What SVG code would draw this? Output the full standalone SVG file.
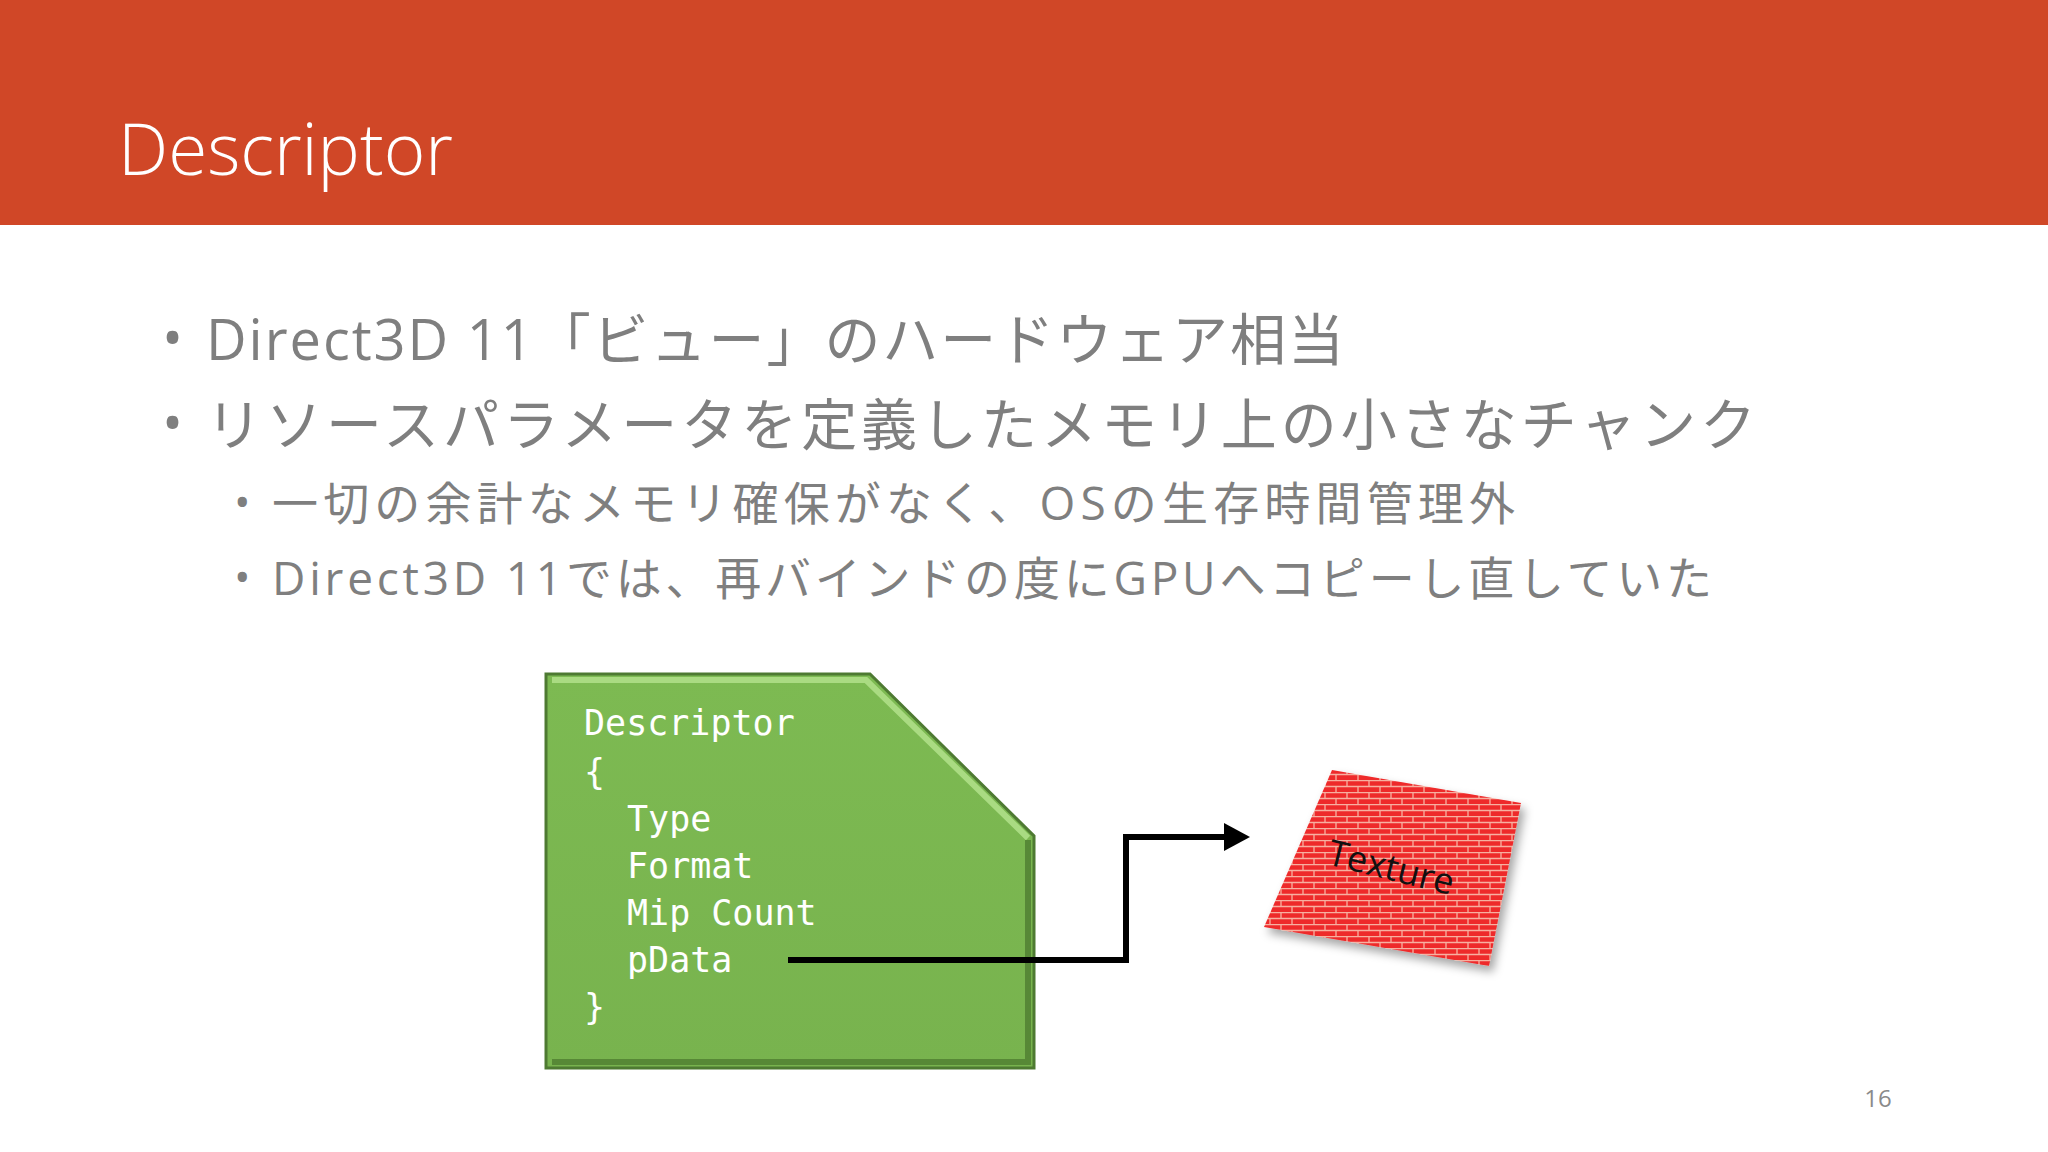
<svg xmlns="http://www.w3.org/2000/svg" width="2048" height="1152" viewBox="0 0 2048 1152">
<style>
.t{font-family:"Segoe UI","Open Sans","Noto Sans CJK JP",sans-serif;fill:#7f7f7f}
.c{font-family:"DejaVu Sans Mono","Liberation Mono",monospace;font-size:35px;fill:#fff}
</style>
<defs>
<pattern id="brick" width="22" height="12" patternUnits="userSpaceOnUse">
<rect width="22" height="12" fill="#ee2a2a"/>
<path d="M0 0.5H22M0 6.5H22M5 0V6M16 6V12" stroke="#f7b0a0" stroke-width="1.3"/>
</pattern>
<linearGradient id="g" x1="0" y1="0" x2="0" y2="1"><stop offset="0" stop-color="#7dba52"/><stop offset="1" stop-color="#78b34e"/></linearGradient>
<filter id="sh"><feDropShadow dx="4" dy="6" stdDeviation="5" flood-opacity="0.35"/></filter>
</defs>
<rect width="2048" height="1152" fill="#fff"/>
<rect width="2048" height="225" fill="#d04727"/>
<text x="118" y="175" font-family="Segoe UI Light,Open Sans,sans-serif" font-weight="300" font-size="71" fill="#fff">Descriptor</text>
<g id="bullets">
<text class="t" x="162" y="358" font-size="56">•</text>
<text class="t" x="206" y="360" font-size="56" textLength="1138">Direct3D 11「ビュー」のハードウェア相当</text>
<text class="t" x="162" y="443" font-size="56">•</text>
<text class="t" x="206" y="445" font-size="56" textLength="1550">リソースパラメータを定義したメモリ上の小さなチャンク</text>
<text class="t" x="234" y="518" font-size="44">•</text>
<text class="t" x="272" y="520" font-size="46" textLength="1243">一切の余計なメモリ確保がなく、OSの生存時間管理外</text>
<text class="t" x="234" y="593" font-size="44">•</text>
<text class="t" x="272" y="595" font-size="46" textLength="1440">Direct3D 11では、再バインドの度にGPUへコピーし直していた</text>
</g>
<g id="descriptor">
<path d="M546 674H870L1034 836V1068H546Z" fill="url(#g)" stroke="#4e7a32" stroke-width="3"/>
<path d="M552 680H866L1028 838" fill="none" stroke="#b5e48e" stroke-width="6" opacity="0.8"/>
<path d="M1028 840V1062H552" fill="none" stroke="#4f7d31" stroke-width="6" opacity="0.8"/>
<text class="c" x="584" y="735">Descriptor</text>
<text class="c" x="584" y="784">{</text>
<text class="c" x="627" y="831">Type</text>
<text class="c" x="627" y="878">Format</text>
<text class="c" x="627" y="925">Mip Count</text>
<text class="c" x="627" y="972">pData</text>
<text class="c" x="584" y="1019">}</text>
</g>
<g id="texture">
<path d="M1332 770L1521 803L1489 966L1264 927Z" fill="url(#brick)" filter="url(#sh)"/>
<text x="1391" y="880" transform="rotate(14 1391 868)" text-anchor="middle" font-family="Open Sans,sans-serif" font-size="36" fill="#111">Texture</text>
</g>
<g id="connectors">
<path d="M788 960H1126V837H1228" fill="none" stroke="#000" stroke-width="6"/>
<path d="M1224 823L1250 837L1224 851Z" fill="#000"/>
</g>
<text x="1878" y="1107" font-family="Open Sans,sans-serif" font-size="24" fill="#8a8a8a" text-anchor="middle">16</text>
</svg>
